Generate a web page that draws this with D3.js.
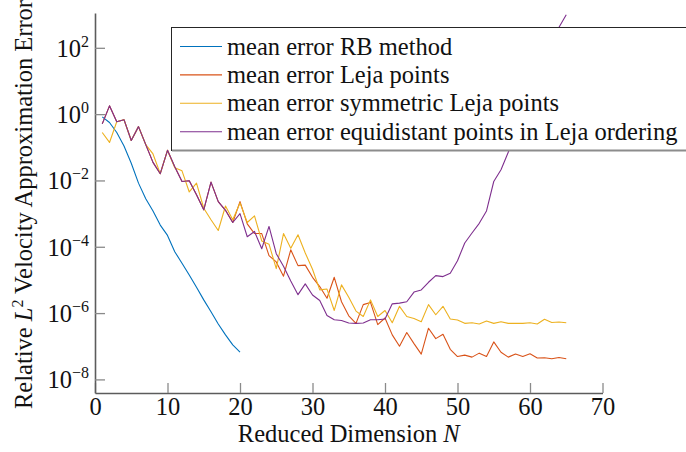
<!DOCTYPE html>
<html>
<head>
<meta charset="utf-8">
<script src="https://cdn.jsdelivr.net/npm/d3@7"></script>
<style>
    body { margin: 0; background: #fff; }
    text { font-family: "Liberation Serif", "Times New Roman", serif; fill: #111; }
</style>
</head>
<body>
<div id="chart"></div>
<script>
// reduced dimension N
var dimsRB = d3.range(1, 21);
var dimsLeja = d3.range(1, 66);

var seriesNames = [
    "mean error RB method",
    "mean error Leja points",
    "mean error symmetric Leja points",
    "mean error equidistant points in Leja ordering"
];
var seriesColors = ["#0072bd", "#d95319", "#edb120", "#7e2f8e"];

var xTicks = [0, 10, 20, 30, 40, 50, 60, 70];
var yTickExps = [-8, -6, -4, -2, 0, 2];

// mean error RB method (N = 1..20)
var errRB = [0.83, 0.56, 0.28, 0.11, 0.033, 8.3e-3, 2.8e-3, 1.2e-3, 4.5e-4, 2.2e-4,
    7.1e-5, 3.2e-5, 1.4e-5, 6.0e-6, 2.5e-6, 1.1e-6, 4.7e-7, 2.2e-7, 1.1e-7, 6.6e-8];

// mean error Leja points (N = 1..65)
var errLeja = [0.51, 1.78, 0.59, 0.68, 0.16, 0.42, 0.12, 0.035, 0.016, 0.081,
    0.026, 9.3e-3, 9.8e-3, 3.7e-3, 1.3e-3, 8.9e-3, 2.3e-3, 1.26e-3, 5.4e-4, 2.3e-3,
    4.9e-4, 2.5e-4, 2.5e-4, 5.4e-5, 3.5e-5, 1.3e-5, 8.1e-5, 2.7e-5, 2.8e-5, 1.2e-5,
    6.3e-6, 2.8e-6, 1.2e-5, 2.2e-6, 8.3e-7, 4.9e-7, 1.8e-6, 2.1e-6, 4.5e-7, 7.1e-7,
    2.2e-7, 1.0e-7, 2.6e-7, 1.2e-7, 5.8e-8, 3.5e-7, 1.7e-7, 2.3e-7, 8.1e-8, 4.9e-8,
    5.4e-8, 4.7e-8, 6.2e-8, 4.9e-8, 1.35e-7, 6.6e-8, 4.7e-8, 5.8e-8, 4.9e-8, 5.9e-8,
    4.4e-8, 4.5e-8, 4.2e-8, 4.6e-8, 4.2e-8];

// mean error symmetric Leja points (N = 1..65)
var errSymLeja = [0.28, 0.14, 0.59, 0.68, 0.16, 0.42, 0.12, 0.063, 0.016, 0.081,
    0.024, 0.0195, 4.5e-3, 8.3e-3, 1.45e-3, 6.5e-4, 3.1e-4, 1.7e-3, 6.5e-4, 2.1e-3,
    5.4e-4, 8.5e-4, 1.5e-4, 1.2e-4, 2.2e-5, 2.5e-4, 9.0e-5, 2.3e-4, 6.5e-5, 2.1e-5,
    5.0e-6, 5.3e-6, 1.2e-6, 7.1e-6, 3.0e-6, 1.15e-6, 7.9e-7, 2.5e-6, 7.9e-7, 1.2e-6,
    5.1e-7, 1.6e-6, 7.9e-7, 6.9e-7, 5.5e-7, 1.8e-6, 8.9e-7, 1.6e-6, 6.6e-7, 6.2e-7,
    4.9e-7, 5.1e-7, 4.7e-7, 5.8e-7, 4.9e-7, 5.5e-7, 4.9e-7, 4.9e-7, 4.9e-7, 5.1e-7,
    4.7e-7, 6.5e-7, 5.2e-7, 5.4e-7, 5.1e-7];

// mean error equidistant points in Leja ordering (N = 1..65)
var errEquiLeja = [0.51, 1.78, 0.59, 0.68, 0.16, 0.42, 0.12, 0.035, 0.016, 0.081,
    0.026, 9.3e-3, 9.8e-3, 3.7e-3, 1.3e-3, 8.9e-3, 2.3e-3, 1.26e-3, 5.4e-4, 1.0e-3,
    2.0e-4, 2.9e-4, 8.7e-5, 4.1e-4, 6.2e-5, 2.6e-5, 9.3e-6, 3.6e-6, 7.6e-6, 3.5e-6,
    2.4e-6, 8.5e-7, 6.3e-7, 6.0e-7, 5.0e-7, 4.9e-7, 5.0e-7, 6.3e-7, 6.3e-7, 6.6e-7,
    1.9e-6, 2.0e-6, 2.2e-6, 4.3e-6, 5.0e-6, 8.5e-6, 1.35e-5, 1.26e-5, 1.6e-5, 3.8e-5,
    1.3e-4, 2.6e-4, 5.1e-4, 1.2e-3, 9.3e-3, 0.021, 0.071, 0.25, 1.0, 3.2,
    10, 32, 126, 417, 1000];

window.onload = function () {

    var width = 686;
    var height = 452;
    var fontSize = 24.5;

    var svg = d3.select("#chart").append("svg")
        .attr("width", width)
        .attr("height", height);

    var xScale = d3.scaleLinear()
        .domain([0, 70])
        .range([95, 602.5]);

    var yScale = d3.scaleLog()
        .domain([Math.pow(10, -8.41), Math.pow(10, 3.05)])
        .range([393, 13]);

    var plotTop = yScale.range()[1];
    var plotBottom = yScale.range()[0];

    // clip the lines to the plot area
    svg.append("clipPath")
        .attr("id", "plotClip")
        .append("rect")
        .attr("x", xScale(0))
        .attr("y", plotTop)
        .attr("width", xScale(70) - xScale(0))
        .attr("height", plotBottom - plotTop);

    // x axis, ticks pointing inward
    var xAxis = svg.append("g")
        .attr("transform", "translate(0," + plotBottom + ")")
        .call(d3.axisBottom(xScale)
            .tickValues(xTicks)
            .tickSize(-10)
            .tickSizeOuter(0)
            .tickPadding(3));

    xAxis.selectAll("text")
        .style("font-family", "Liberation Serif, serif")
        .style("font-size", fontSize + "px")
        .attr("fill", "#111")
        .attr("dy", "0.78em");

    // y axis, labels drawn by hand as 10^k
    var yAxis = svg.append("g")
        .attr("transform", "translate(" + xScale(0) + ",0)")
        .call(d3.axisLeft(yScale)
            .tickValues(yTickExps.map(function (k) { return Math.pow(10, k); }))
            .tickSize(-10)
            .tickSizeOuter(0)
            .tickFormat(""));

    [xAxis, yAxis].forEach(function (ax) {
        ax.select(".domain").attr("stroke", "#5c5c5c").attr("stroke-width", 1.6);
        ax.selectAll(".tick line").attr("stroke", "#8a8a8a").attr("stroke-width", 1.3);
    });

    yTickExps.forEach(function (k) {
        var label = svg.append("text")
            .attr("x", 89)
            .attr("y", yScale(Math.pow(10, k)) + 9)
            .attr("text-anchor", "end")
            .style("font-size", fontSize + "px");
        label.append("tspan").text("10");
        label.append("tspan")
            .attr("dy", -10)
            .style("font-size", "16px")
            .text(k < 0 ? "\u2212" + (-k) : String(k));
    });

    // axis titles
    var xTitle = svg.append("text")
        .attr("x", (xScale(0) + xScale(70)) / 2)
        .attr("y", 442)
        .attr("text-anchor", "middle")
        .style("font-size", fontSize + "px");
    xTitle.append("tspan").text("Reduced Dimension ");
    xTitle.append("tspan").style("font-style", "italic").text("N");

    // y title starts near the bottom and runs past the top edge
    var yTitle = svg.append("text")
        .attr("transform", "translate(32,409) rotate(-90)")
        .attr("text-anchor", "start")
        .style("font-size", fontSize + "px");
    yTitle.append("tspan").text("Relative ");
    yTitle.append("tspan").style("font-style", "italic").text("L");
    yTitle.append("tspan").attr("dy", -9).style("font-size", "16px").text("2");
    yTitle.append("tspan").attr("dy", 9).text(" Velocity Approximation Error");

    // series lines
    var line = d3.line()
        .x(function (d) { return xScale(d[0]); })
        .y(function (d) { return yScale(d[1]); });

    var seriesData = [
        d3.zip(dimsRB, errRB),
        d3.zip(dimsLeja, errLeja),
        d3.zip(dimsLeja, errSymLeja),
        d3.zip(dimsLeja, errEquiLeja)
    ];

    var lines = svg.append("g").attr("clip-path", "url(#plotClip)");
    seriesData.forEach(function (pts, i) {
        lines.append("path")
            .datum(pts)
            .attr("fill", "none")
            .attr("stroke", seriesColors[i])
            .attr("stroke-width", 1.1)
            .attr("stroke-linejoin", "round")
            .attr("d", line);
    });

    // legend box
    var legend = svg.append("g");
    legend.append("rect")
        .attr("x", 171.5)
        .attr("y", 27.5)
        .attr("width", 540)
        .attr("height", 123)
        .attr("fill", "#fff")
        .attr("stroke", "#262626")
        .attr("stroke-width", 1);
    legend.append("line")
        .attr("x1", 172).attr("x2", 700)
        .attr("y1", 150.5).attr("y2", 150.5)
        .attr("stroke", "#8c8c8c")
        .attr("stroke-width", 2);

    seriesNames.forEach(function (name, i) {
        var cy = 46.5 + i * 28.4;
        legend.append("line")
            .attr("x1", 180).attr("x2", 222)
            .attr("y1", cy).attr("y2", cy)
            .attr("stroke", seriesColors[i])
            .attr("stroke-width", 1.1);
        legend.append("text")
            .attr("x", 227)
            .attr("y", cy + 8)
            .style("font-size", fontSize + "px")
            .text(name);
    });
};
</script>
</body>
</html>
